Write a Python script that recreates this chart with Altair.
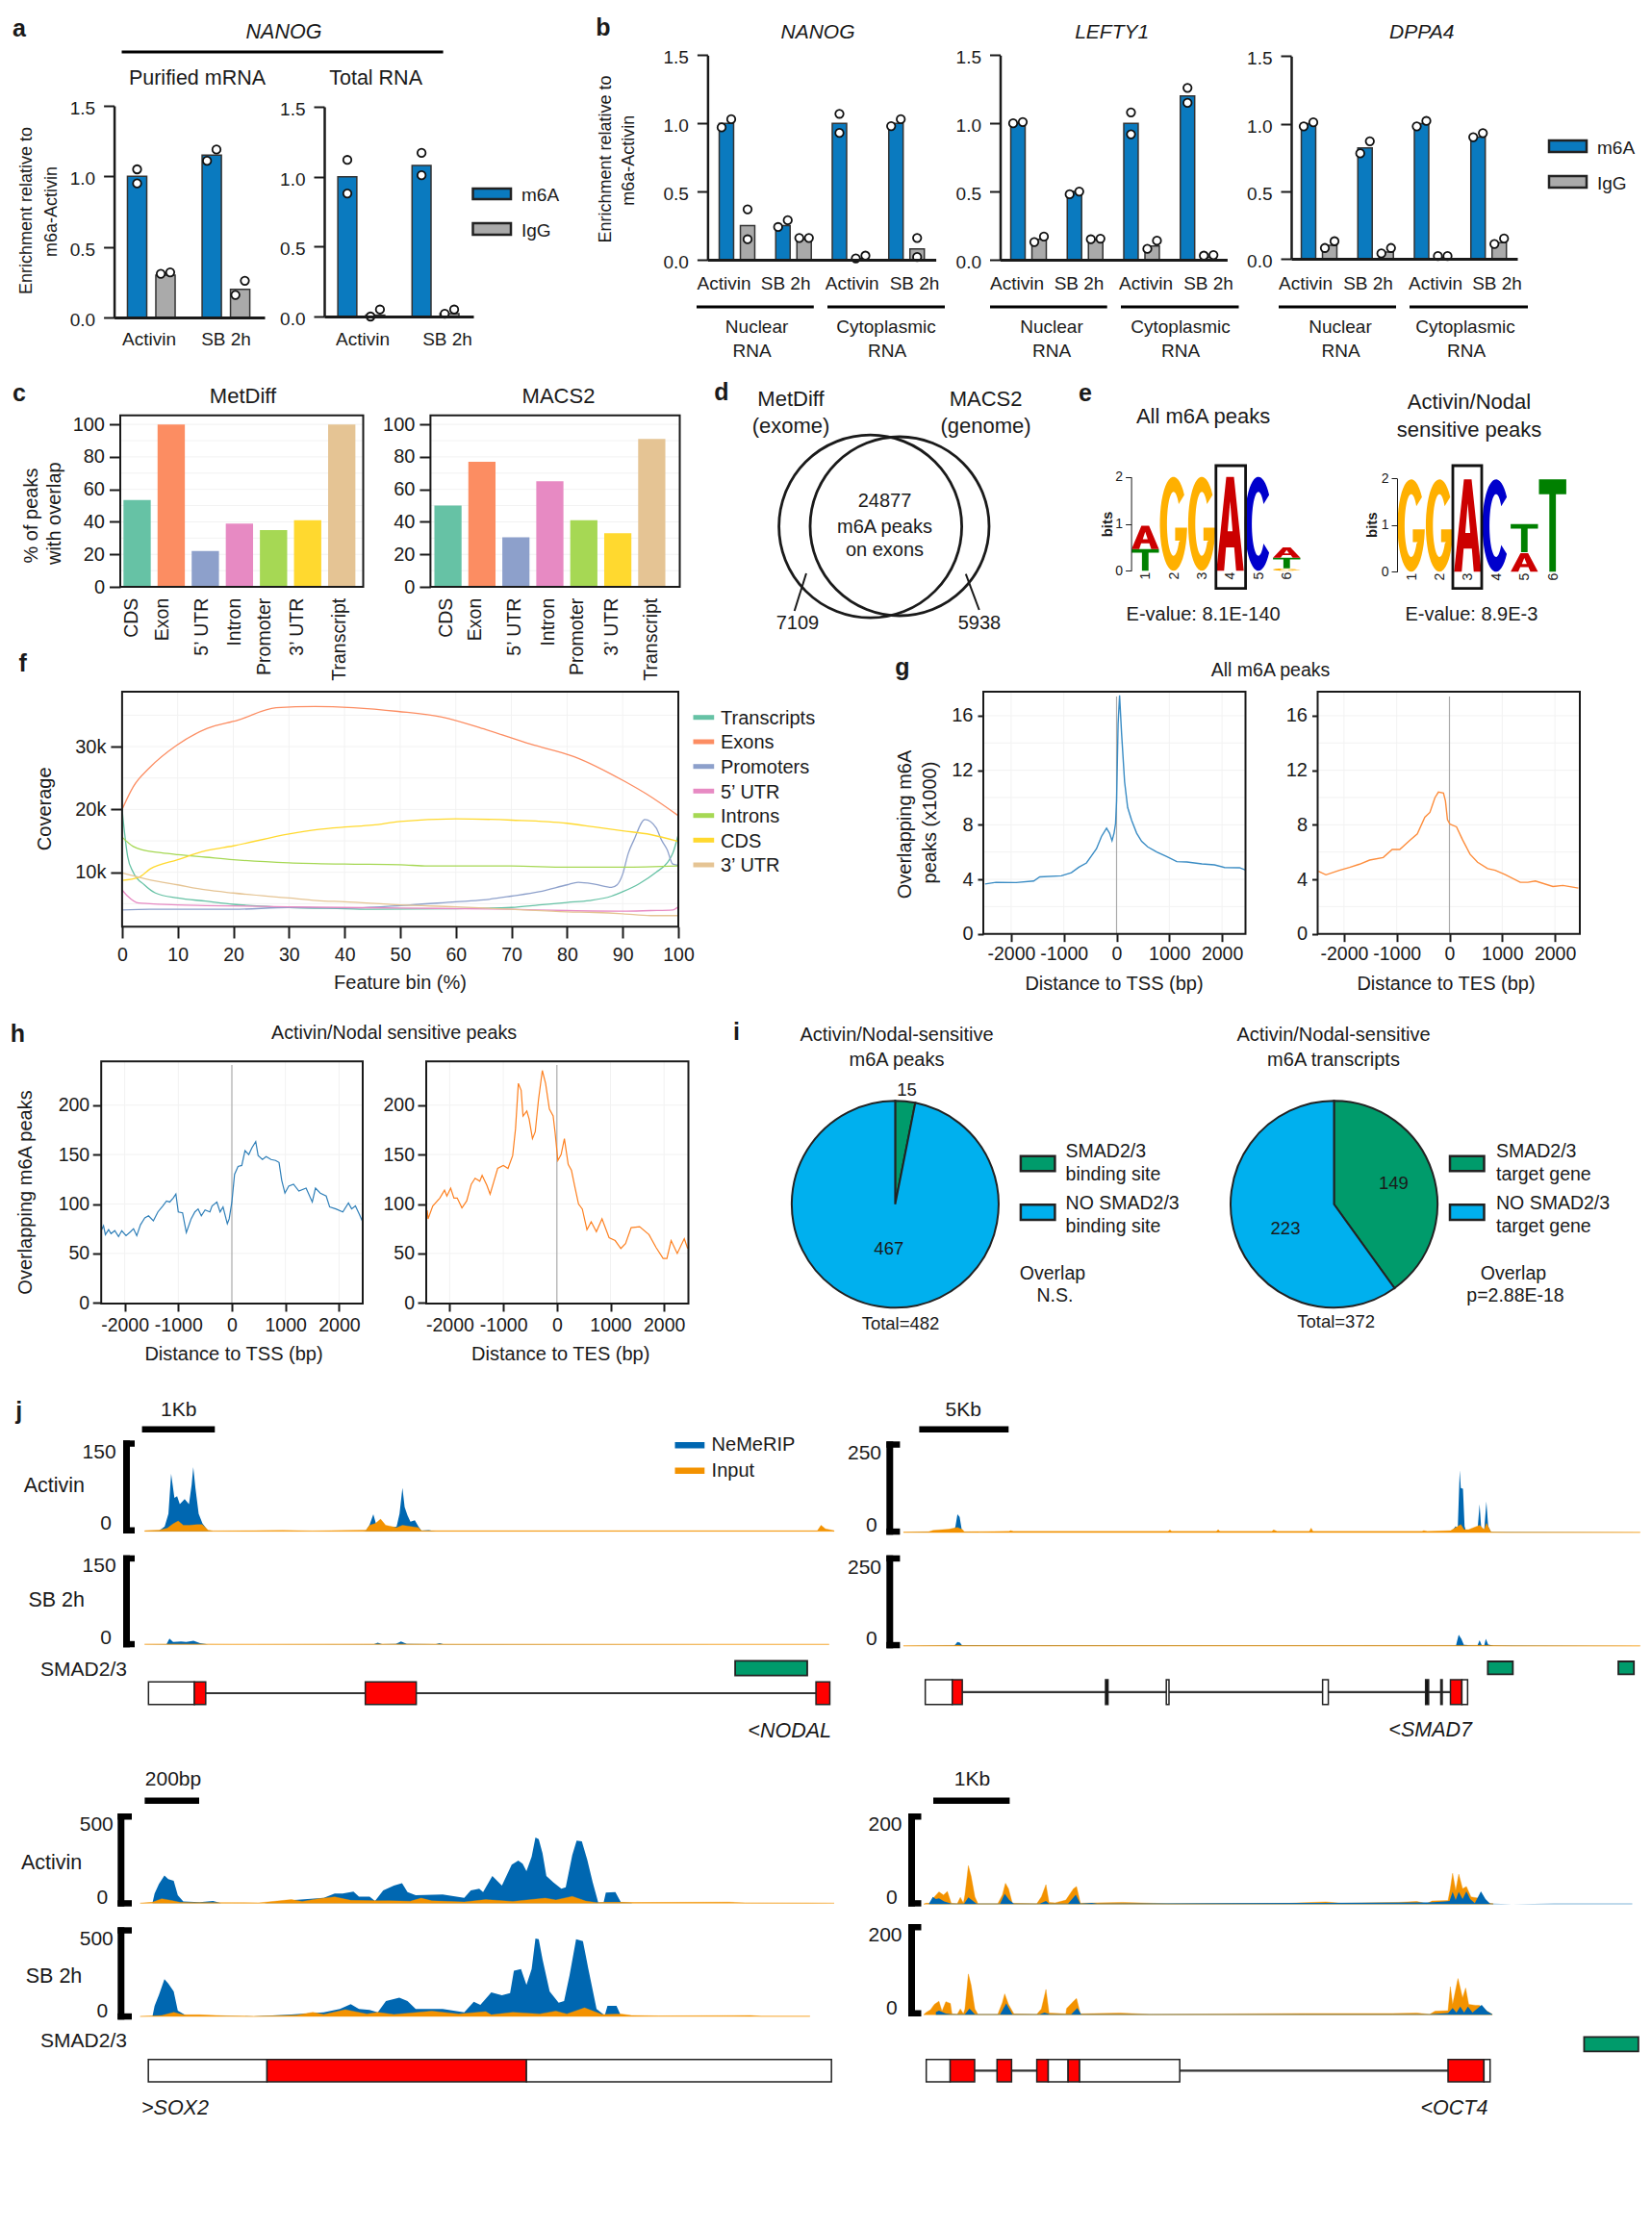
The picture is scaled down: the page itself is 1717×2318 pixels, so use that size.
import math
import altair as alt
import pandas as pd

FONT = "Liberation Sans"
INK = "#1a1a1a"
W, H = 1701, 2302
BLUE_BAR, GREY_BAR = "#0a7abf", "#aaaaaa"
NEME, INPUT = "#0067b1", "#f39200"
GREEN, SKY = "#009b6b", "#00b0ee"
SET2 = ["#66c2a5", "#fc8d62", "#8da0cb", "#e78ac3", "#a6d854", "#ffd92f", "#e5c494"]

# ---------------- data ----------------
a1_vals = [1.0, 0.3, 1.15, 0.2]
a1_pts = [(1.05, 0.95), (0.31, 0.32), (1.11, 1.19), (0.16, 0.26)]
a1_stack = [True, False, False, False]
a2_vals = [1.0, 0.01, 1.08, 0.02]
a2_pts = [(1.12, 0.88), (0.0, 0.05), (1.17, 1.01), (0.02, 0.05)]
a2_stack = [True, False, True, False]

b1_vals = [1.0, 0.25, 0.25, 0.15, 1.0, 0.01, 1.0, 0.08]
b1_pts = [(0.97, 1.03), (0.15, 0.37), (0.24, 0.29), (0.16, 0.16), (0.93, 1.07), (0.01, 0.03), (0.98, 1.03), (0.02, 0.16)]
b1_stack = [False, True, False, False, True, False, False, True]
b2_vals = [1.0, 0.15, 0.5, 0.15, 1.0, 0.1, 1.2, 0.02]
b2_pts = [(1.0, 1.01), (0.13, 0.17), (0.48, 0.5), (0.15, 0.155), (0.92, 1.08), (0.08, 0.14), (1.15, 1.26), (0.03, 0.035)]
b2_stack = [False, False, False, False, True, False, True, False]
b3_vals = [1.0, 0.1, 0.82, 0.05, 1.0, 0.01, 0.9, 0.12]
b3_pts = [(0.98, 1.01), (0.08, 0.13), (0.78, 0.87), (0.04, 0.08), (0.98, 1.02), (0.02, 0.02), (0.9, 0.93), (0.11, 0.15)]
b3_stack = [False] * 8

c_labels = ["CDS", "Exon", "5\u2019 UTR", "Intron", "Promoter", "3\u2019 UTR", "Transcript"]
c1_vals = [53.5, 100, 22, 39, 35, 41, 100]
c2_vals = [50, 77, 30.5, 65, 41, 33, 91]

f_names = ["Transcripts", "Exons", "Promoters", "5\u2019 UTR", "Introns", "CDS", "3\u2019 UTR"]
f_x = {
    "Transcripts": [0, 1, 2, 4, 6, 10, 15, 20, 25, 30, 40, 45, 60, 70, 75, 80, 84, 88, 90, 93, 96, 98, 99, 100],
    "Exons": [0, 2, 4.9, 9.8, 15.3, 20.8, 27.7, 34.7, 41.6, 49.6, 57.5, 65.4, 73.4, 81.3, 90.3, 94.2, 100],
    "Promoters": [0, 5, 20, 30, 40, 50, 60, 65, 70, 75, 80, 82, 85, 88, 89, 90, 91, 92, 94, 96, 97, 98, 99, 100],
    "5\u2019 UTR": [0, 1, 3, 5, 10, 15, 30, 50, 70, 80, 90, 95, 99, 100],
    "Introns": [0, 2, 4, 7, 10, 15, 20, 30, 40, 50, 55, 60, 70, 80, 90, 100],
    "CDS": [0, 3, 5, 10, 15, 20, 30, 35, 40, 45, 50, 60, 70, 80, 85, 90, 95, 100],
    "3\u2019 UTR": [0, 5, 10, 15, 20, 30, 35, 40, 50, 60, 70, 80, 85, 90, 95, 100],
}
f_y = {
    "Transcripts": [20, 12.5, 10, 8, 6.7, 5.9, 5.4, 4.9, 4.6, 4.4, 4.2, 4.1, 4.2, 4.4, 4.8, 5.2, 5.5, 6.2, 6.9, 8.2, 10, 11.5, 13, 16],
    "Exons": [20, 23.6, 26.6, 30.2, 32.9, 34.2, 36.2, 36.4, 36.2, 35.6, 34.7, 32.7, 30.4, 28.4, 24.5, 22.5, 19],
    "Promoters": [4, 4.1, 4.1, 4.4, 4.3, 4.7, 5.3, 5.6, 6.2, 6.9, 8, 8.4, 8.1, 7.6, 8, 9.7, 13, 15.1, 18.4, 17.1, 15.1, 13.6, 11.3, 11.1],
    "5\u2019 UTR": [7.2, 6.2, 5.1, 5, 4.8, 4.7, 4.5, 4.3, 4.1, 3.9, 3.8, 3.9, 4, 4.5],
    "Introns": [15.6, 14.1, 13.5, 13.1, 12.8, 12.4, 12, 11.5, 11.3, 11.2, 11, 11, 11, 10.8, 10.8, 11],
    "CDS": [8.7, 9.2, 10.5, 12, 13.4, 14.2, 16.1, 16.8, 17.2, 17.5, 18.1, 18.5, 18.3, 17.8, 17.2, 16.6, 16, 14.9],
    "3\u2019 UTR": [9.9, 8.8, 8, 7.2, 6.7, 5.9, 5.5, 5.3, 4.8, 4.5, 4.1, 3.7, 3.6, 3.4, 3.1, 3.1],
}

g1_d = [-2495, -2286, -1905, -1571, -1457, -1048, -857, -714, -571, -476, -381, -286, -190, -133, -86, -48, -19, 0, 29, 57, 95, 152, 210, 286, 381, 476, 590, 762, 952, 1143, 1333, 1619, 1857, 2048, 2333, 2445]
g1_v = [3.66, 3.78, 3.76, 3.88, 4.18, 4.26, 4.49, 4.89, 5.2, 5.72, 6.24, 7.14, 7.75, 7.38, 6.83, 7.38, 8.09, 9.74, 15.4, 17.5, 14.7, 11.16, 9.27, 8.32, 7.38, 6.78, 6.38, 6, 5.67, 5.3, 5.27, 5.13, 5.06, 4.87, 4.85, 4.68]
g2_d = [-2486, -2343, -2086, -1895, -1705, -1514, -1257, -1086, -943, -752, -610, -467, -371, -276, -210, -114, -76, -38, 10, 133, 248, 390, 533, 724, 867, 1057, 1343, 1486, 1629, 1962, 2152, 2445]
g2_v = [4.59, 4.33, 4.66, 4.87, 5.11, 5.41, 5.6, 6.19, 6.19, 6.86, 7.33, 8.56, 8.91, 9.98, 10.4, 10.33, 9.74, 8.37, 8.04, 7.85, 6.9, 5.84, 5.25, 4.78, 4.66, 4.35, 3.78, 3.78, 3.88, 3.47, 3.55, 3.36]

h1_d = [-2430, -2395, -2360, -2300, -2255, -2185, -2115, -2055, -1975, -1890, -1835, -1775, -1705, -1625, -1555, -1465, -1380, -1290, -1220, -1160, -1095, -1045, -1000, -920, -850, -760, -690, -630, -570, -500, -410, -370, -280, -220, -165, -85, -50, 0, 50, 115, 185, 245, 315, 375, 445, 490, 570, 640, 730, 815, 880, 930, 990, 1060, 1150, 1250, 1385, 1500, 1560, 1650, 1760, 1825, 1940, 2070, 2175, 2235, 2305, 2375, 2440]
h1_v = [74, 78, 69, 74, 70, 73, 67, 73, 68, 72, 75, 68, 79, 86, 88, 83, 92, 98, 103, 102, 106, 110, 92, 91, 71, 85, 92, 95, 88, 94, 92, 98, 102, 92, 97, 80, 85, 102, 130, 138, 139, 154, 150, 157, 163, 149, 145, 148, 145, 144, 142, 124, 111, 118, 120, 113, 116, 102, 116, 111, 108, 97, 95, 92, 101, 95, 98, 90, 82]
h2_d = [-2420, -2404, -2316, -2184, -2097, -2053, -1982, -1921, -1860, -1772, -1684, -1597, -1526, -1439, -1395, -1307, -1246, -1175, -1105, -1000, -912, -825, -772, -719, -667, -632, -561, -518, -456, -404, -342, -272, -211, -140, -70, -35, 18, 79, 140, 211, 272, 333, 404, 474, 561, 640, 737, 842, 974, 1088, 1193, 1281, 1386, 1544, 1719, 1851, 1982, 2053, 2132, 2246, 2377, 2440]
h2_v = [93.5, 85, 98, 106, 114, 108, 116, 106, 106, 96, 103, 120, 126, 123, 129, 119, 110, 123, 136, 139, 136, 149, 176, 222, 215, 189, 194, 186, 166, 173, 206, 235, 222, 196, 189, 173, 144, 150, 166, 140, 134, 118, 100, 95, 74, 82, 72, 85, 66, 63, 55, 60, 76, 77, 69, 56, 45, 45, 63, 50, 65, 55]

pie1_counts = [15, 467]
pie2_counts = [149, 223]

# genome tracks: position, height
nodal_a_bx = [0, 0.2, 0.274, 0.326, 0.363, 0.408, 0.445, 0.482, 0.549, 0.608, 0.645, 0.667, 0.697, 0.741, 0.793, 0.867, 0.94, 3.0, 3.04, 3.09, 3.14, 3.18, 3.24, 3.35, 3.46, 3.5, 3.54, 3.57, 3.61, 3.65, 3.71, 3.76, 3.8, 3.9, 4.0, 9.47]
nodal_a_by = [0, 1, 8, 29, 95, 55, 58, 45, 53, 45, 77, 106, 71, 29, 13, 1, 0, 0, 1, 11, 28, 11, 8, 5, 8, 29, 72, 40, 26, 16, 18, 8, 1, 2, 0, 0]
nodal_a_ox = [0, 0.2, 0.31, 0.385, 0.46, 0.53, 0.61, 0.72, 0.79, 0.87, 0.94, 1.5, 1.9, 2.3, 3.04, 3.09, 3.17, 3.24, 3.31, 3.39, 3.46, 3.54, 3.65, 3.76, 3.8, 4.2, 5.0, 6.5, 8.0, 9.24, 9.29, 9.35, 9.47]
nodal_a_oy = [1, 2, 5, 12, 17, 10, 10, 11, 11, 2, 0.7, 1, 1.6, 0.7, 2, 10, 13, 20, 10, 8, 6, 10, 8, 6, 1, 1, 1, 1, 1, 1, 10, 4, 1]
nodal_s_bx = [0, 0.3, 0.34, 0.39, 0.5, 0.57, 0.67, 0.76, 0.87, 3.15, 3.2, 3.26, 3.45, 3.52, 3.6, 4.0, 4.05, 4.1, 9.47]
nodal_s_by = [0, 0.5, 9.5, 4, 5, 4, 6, 2, 0, 0.5, 3, 0.5, 1, 5, 1, 0.5, 2, 0.5, 0]
nodal_s_ox = [0, 0.85, 1.2, 3.0, 3.7, 4.5, 9.4]
nodal_s_oy = [0.6, 0.6, 0.3, 0.6, 0.6, 0.3, 0.3]

smad7_a_bx = [0, 2.82, 2.91, 3.02, 3.14, 3.26, 3.34, 30.6, 30.74, 30.88, 31.0, 31.11, 31.17, 31.29, 31.38, 31.46, 32.1, 32.22, 32.31, 32.48, 32.6, 32.7, 32.86, 41.2]
smad7_a_by = [0, 3.5, 17, 50, 43, 8, 1, 0, 8, 17, 12, 171, 122, 120, 17, 4, 3, 78, 12, 8, 85, 17, 1, 0]
smad7_a_ox = [0, 1.4, 1.66, 2.53, 3.02, 3.31, 3.4, 5.9, 6.0, 6.15, 14.8, 14.9, 15.0, 17.5, 17.6, 17.7, 20.6, 20.7, 20.9, 22.7, 22.8, 22.9, 29.0, 29.1, 29.3, 30.6, 31.17, 31.35, 31.6, 32.22, 32.48, 32.6, 32.86, 33.8, 41.2]
smad7_a_oy = [1, 2, 6, 9, 14, 8, 2, 3, 5, 3, 3, 7, 3, 3, 8, 3, 3, 7, 3, 3, 12, 3, 3, 5, 3, 5, 22, 8, 8, 20, 8, 25, 1, 0.5, 0.5]
smad7_s_bx = [0, 2.85, 3.02, 3.16, 3.28, 30.9, 31.05, 31.2, 31.34, 32.1, 32.22, 32.34, 32.48, 32.57, 32.7, 33.0, 41.2]
smad7_s_by = [0, 1, 11, 9, 2, 1, 31, 20, 3, 1, 16, 2, 2, 20, 4, 1, 0]
smad7_s_ox = [0, 2.8, 3.02, 3.3, 31.0, 31.4, 32.2, 32.8, 34, 41.2]
smad7_s_oy = [0.8, 1.5, 2.5, 1, 1.5, 1.5, 2, 1.5, 0.6, 0.5]

sox2_a_bx = [65, 73, 89, 109, 123, 143, 158, 178, 238, 287, 317, 475, 574, 693, 733, 762, 802, 822, 861, 881, 911, 950, 980, 1000, 1030, 1129, 1208, 1232, 1263, 1277, 1311, 1346, 1382, 1406, 1422, 1436, 1455, 1469, 1481, 1495, 1509, 1535, 1564, 1580, 1604, 1620, 1639, 1659, 1679, 1699, 1719, 1727, 1762, 1782, 1822]
sox2_a_by = [0, 54, 107, 155, 134, 125, 45, 9, 5, 12, 0, 0, 16, 30, 54, 54, 64, 36, 36, 12, 71, 98, 111, 62, 45, 48, 30, 71, 80, 62, 152, 98, 214, 237, 220, 179, 259, 366, 357, 277, 152, 116, 80, 89, 268, 348, 345, 241, 116, 4, 4, 59, 62, 5, 1]
sox2_a_ox = [20, 65, 99, 139, 168, 218, 297, 455, 574, 614, 673, 733, 792, 891, 931, 1010, 1050, 1089, 1208, 1287, 1386, 1505, 1544, 1604, 1653, 1693, 1723, 1782, 1831, 2178, 2237, 2475, 2564]
sox2_a_oy = [0, 5, 25, 14, 4, 3, 3, 2, 20, 10, 25, 35, 16, 13, 14, 11, 28, 13, 7, 20, 10, 28, 18, 38, 12, 3, 5, 5, 4, 6, 2, 1, 0]
sox2_s_bx = [65, 73, 89, 109, 123, 143, 158, 188, 436, 574, 693, 752, 792, 822, 861, 891, 921, 970, 1000, 1030, 1129, 1208, 1243, 1267, 1307, 1346, 1376, 1390, 1416, 1436, 1455, 1469, 1481, 1495, 1521, 1554, 1574, 1594, 1618, 1643, 1663, 1693, 1723, 1733, 1766, 1782, 1822]
sox2_s_by = [0, 59, 121, 207, 184, 139, 32, 5, 0, 11, 23, 41, 68, 41, 36, 23, 86, 104, 86, 41, 41, 23, 82, 64, 134, 118, 130, 255, 264, 175, 264, 434, 430, 318, 139, 77, 86, 229, 430, 420, 264, 41, 5, 59, 59, 5, 0]
sox2_s_ox = [20, 99, 143, 178, 238, 337, 436, 594, 653, 693, 772, 851, 891, 950, 1089, 1188, 1287, 1307, 1386, 1485, 1544, 1584, 1649, 1713, 1782, 1822, 1921, 2257, 2297, 2475]
sox2_s_oy = [0, 5, 23, 9, 9, 3, 0, 7, 23, 11, 38, 14, 23, 11, 30, 14, 27, 9, 23, 14, 30, 14, 48, 11, 14, 5, 3, 5, 1, 1]

oct4_a_ox = [0, 0.03, 0.09, 0.14, 0.2, 0.26, 0.31, 0.36, 0.44, 0.48, 0.52, 0.54, 0.585, 0.62, 0.67, 0.71, 0.97, 1.03, 1.07, 1.11, 1.16, 1.48, 1.54, 1.6, 1.64, 1.72, 1.86, 1.96, 2.0, 2.05, 2.27, 2.6, 3.2, 4.78, 5.26, 5.46, 6.21, 6.45, 6.58, 6.65, 6.86, 6.89, 6.92, 6.96, 7.0, 7.05, 7.1, 7.16, 7.27, 7.4, 7.45]
oct4_a_oy = [0, 2, 2, 16, 27, 20, 28, 2, 1, 15, 2, 20, 85, 62, 16, 1, 1, 20, 46, 34, 2, 1, 16, 43, 4, 3, 9, 34, 39, 2, 3, 4, 1, 2, 5, 2, 4, 6, 1, 7, 8, 34, 68, 30, 66, 34, 39, 16, 13, 2, 1]
oct4_a_bx = [0.07, 0.12, 0.16, 0.2, 0.27, 0.36, 0.53, 0.585, 0.63, 0.69, 1.0, 1.06, 1.12, 1.18, 1.52, 1.6, 1.64, 1.89, 1.99, 2.05, 2.2, 2.27, 5.02, 5.16, 6.62, 6.82, 6.88, 6.92, 6.96, 7.0, 7.05, 7.1, 7.15, 7.21, 7.29, 7.35, 7.41, 7.7, 8.25, 8.73, 9.27]
oct4_a_by = [1, 16, 11, 13, 6, 1, 1, 15, 9, 1, 1, 23, 9, 1, 1, 7, 1, 1, 21, 1, 3, 1, 3, 3, 4, 6, 7, 27, 9, 27, 11, 28, 11, 2, 28, 11, 1, 0, 1, 1, 1]
oct4_s_ox = [0, 0.03, 0.09, 0.14, 0.2, 0.24, 0.29, 0.35, 0.37, 0.44, 0.48, 0.52, 0.54, 0.585, 0.62, 0.67, 0.71, 0.97, 1.03, 1.06, 1.11, 1.18, 1.48, 1.54, 1.6, 1.64, 1.86, 1.87, 1.96, 2.0, 2.05, 2.57, 2.95, 4.99, 6.14, 6.45, 6.62, 6.69, 6.86, 6.89, 6.92, 6.99, 7.05, 7.09, 7.13, 7.22, 7.27, 7.37, 7.44]
oct4_s_oy = [0, 5, 11, 23, 30, 8, 29, 25, 2, 1, 13, 2, 13, 90, 66, 13, 1, 1, 27, 46, 23, 2, 1, 13, 56, 4, 2, 14, 30, 36, 2, 4, 1, 3, 3, 4, 1, 8, 9, 62, 23, 80, 37, 59, 23, 21, 21, 8, 1]
oct4_s_bx = [0.16, 0.2, 0.29, 0.36, 0.54, 0.6, 0.67, 1.0, 1.08, 1.16, 1.52, 1.58, 1.65, 1.93, 2.01, 2.06, 6.62, 6.86, 6.92, 6.97, 7.02, 7.07, 7.12, 7.18, 7.3, 7.37, 7.44]
oct4_s_by = [6, 9, 3, 1, 1, 14, 1, 1, 25, 1, 1, 5, 1, 1, 15, 1, 1, 4, 15, 5, 18, 5, 18, 5, 22, 8, 1]

nodal_exons = [(0.052, 0.682, "u"), (0.682, 0.838, "c"), (3.03, 3.73, "c"), (9.22, 9.41, "c")]
smad7_exons = [(1.22, 2.73, "u"), (2.73, 3.29, "c"), (11.3, 11.44, "k"), (14.7, 14.85, "u"), (23.44, 23.76, "u"), (29.2, 29.37, "k"), (30.05, 30.13, "k"), (30.59, 31.23, "c"), (31.23, 31.55, "u")]
sox2_exons = [(50, 485, "u"), (485, 1436, "c"), (1436, 2554, "u")]
oct4_exons = [(0.034, 0.347, "u"), (0.347, 0.667, "c"), (0.96, 1.15, "c"), (1.48, 1.63, "c"), (1.63, 1.89, "u"), (1.89, 2.04, "c"), (2.04, 3.35, "u"), (6.86, 7.33, "c"), (7.33, 7.41, "u")]

# sequence logos: (position, letter, base bits, height bits)
logo1 = [(0, "T", 0, 0.46), (0, "A", 0.46, 0.5), (1, "G", 0, 2), (2, "G", 0, 2), (3, "A", 0, 2), (4, "C", 0, 2),
         (5, "G", 0, 0.05), (5, "T", 0.05, 0.23), (5, "A", 0.28, 0.22)]
logo2 = [(0, "G", 0, 1.98), (1, "G", 0, 1.98), (2, "A", 0, 1.98), (3, "C", 0, 1.98), (4, "A", 0, 0.4), (4, "T", 0.42, 0.6), (5, "T", 0, 1.98)]

# ---------------- helpers ----------------
L = []
ONE = alt.Data(values=[{"k": 1}])
EXON_FILL = {"c": "#ff0000", "u": "#ffffff", "k": "#111111"}


def sx(dom, a, b):
    return alt.Scale(domain=list(dom), range=[a - 8, b - 8], nice=False, zero=False)


def XQ(f, dom, r, axis=None):
    return alt.X(f, type="quantitative", scale=sx(dom, r[0], r[1]), axis=axis, title=None)


def YQ(f, dom, r, axis=None):
    return alt.Y(f, type="quantitative", scale=sx(dom, r[0], r[1]), axis=axis, title=None)


def T(s, X, Y, size=20, align="center", angle=0, italic=False, bold=False, color=INK):
    kw = dict(font=FONT, fontSize=size, align=align, baseline="middle", color=color)
    if angle:
        kw["angle"] = angle
        X += size * 0.06
    else:
        Y += size * 0.06
    if italic:
        kw["fontStyle"] = "italic"
    if bold:
        kw["fontWeight"] = "bold"
    L.append(alt.Chart(alt.Data(values=[{"label": s}])).mark_text(**kw).encode(
        x=alt.value(X - 8), y=alt.value(Y - 8), text=alt.Text("label:N")))


def R(x0, x1, y0, y1, fill=INK, stroke=None, sw=1.5):
    kw = dict(fill=fill, opacity=1)
    if stroke:
        kw.update(stroke=stroke, strokeWidth=sw)
    L.append(alt.Chart(ONE).mark_rect(**kw).encode(
        x=alt.value(x0 - 8), x2=alt.value(x1 - 8), y=alt.value(y0 - 8), y2=alt.value(y1 - 8)))


def LN(x0, y0, x1, y1, w=2):
    L.append(alt.Chart(ONE).mark_rule(color=INK, strokeWidth=w).encode(
        x=alt.value(x0 - 8), x2=alt.value(x1 - 8), y=alt.value(y0 - 8), y2=alt.value(y1 - 8)))


def yax(X, vals, size=19, tick=11, pad=8, domain=True, dw=2.5, expr=None, tw=2, lo=0):
    d = dict(orient="left", offset=-(X - 8), values=vals, title=None, grid=False, labelFont=FONT,
             labelFontSize=size, labelColor=INK, labelPadding=pad, tickSize=tick, tickColor=INK,
             tickWidth=tw, domain=domain, domainColor=INK, domainWidth=dw, labelOverlap=False,
             labelFlush=False, labelOffset=lo, zindex=2)
    if expr:
        d["labelExpr"] = expr
    return alt.Axis(**d)


def xax(Y, vals=None, size=19, tick=8, pad=5, labels=True, dw=2, expr=None, domain=True):
    d = dict(orient="bottom", offset=-(H - (Y - 8)), title=None, grid=False, labelFont=FONT,
             labelFontSize=size, labelColor=INK, labelPadding=pad, tickSize=tick, tickColor=INK,
             tickWidth=2, domain=domain, domainColor=INK, domainWidth=dw, labelOverlap=False,
             labelFlush=False, labels=labels, ticks=tick > 0, zindex=2)
    if vals is not None:
        d["values"] = vals
    if expr:
        d["labelExpr"] = expr
    return alt.Axis(**d)


def axes(xd, xr, yd, yr, xa=None, ya=None):
    df = pd.DataFrame({"x": [xd[0]], "y": [yd[0]]})
    L.append(alt.Chart(df).mark_point(opacity=0).encode(x=XQ("x", xd, xr, xa), y=YQ("y", yd, yr, ya)))


def frame(xd, xr, yd, yr, sw=2):
    df = pd.DataFrame({"a": [xd[0]], "b": [xd[1]], "c": [yd[0]], "d": [yd[1]]})
    L.append(alt.Chart(df).mark_rect(fillOpacity=0, stroke=INK, strokeWidth=sw, opacity=1).encode(
        x=XQ("a", xd, xr), x2=alt.X2("b"), y=YQ("c", yd, yr), y2=alt.Y2("d")))


def grid(xd, xr, yd, yr, xs=(), ys=()):
    for v in xs:
        df = pd.DataFrame({"x": [v]})
        L.append(alt.Chart(df).mark_rule(color="#f2f2f2", strokeWidth=1).encode(
            x=XQ("x", xd, xr), y=alt.value(yr[1] - 8), y2=alt.value(yr[0] - 8)))
    for v in ys:
        df = pd.DataFrame({"y": [v]})
        L.append(alt.Chart(df).mark_rule(color="#f2f2f2", strokeWidth=1).encode(
            y=YQ("y", yd, yr), x=alt.value(xr[0] - 8), x2=alt.value(xr[1] - 8)))


def grouped(vals, pts, stack, ax0, ax1, c0, u, ybot, ytop, gap, jit):
    pos = [(i // 2) * gap + i % 2 for i in range(len(vals))]
    xd = [(ax0 - c0) / u, (ax1 - c0) / u]
    xr, yd, yr = (ax0, ax1), [0, 1.5], (ybot, ytop)
    df = pd.DataFrame({"a": [p - 0.34 for p in pos], "b": [p + 0.34 for p in pos], "v": vals, "z": [0] * len(vals),
                       "c": [BLUE_BAR if i % 2 == 0 else GREY_BAR for i in range(len(vals))]})
    L.append(alt.Chart(df).mark_rect(stroke="#333333", strokeWidth=1.5, opacity=1).encode(
        x=XQ("a", xd, xr), x2=alt.X2("b"), y=YQ("v", yd, yr), y2=alt.Y2("z"),
        color=alt.Color("c:N", scale=None)))
    axes(xd, xr, yd, yr, xa=xax(ybot, labels=False, tick=0, dw=3),
         ya=yax(ax0, [0, 0.5, 1.0, 1.5], expr="format(datum.value,'.1f')", pad=9, lo=2.5))
    rows = []
    for p, pair, st in zip(pos, pts, stack):
        d = 0 if st else jit / u
        rows += [{"x": p - d, "y": pair[0]}, {"x": p + d, "y": pair[1]}]
    L.append(alt.Chart(pd.DataFrame(rows)).mark_circle(color="white", stroke="#111111", strokeWidth=1.8,
                                                       size=72, opacity=1).encode(
        x=XQ("x", xd, xr), y=YQ("y", yd, yr)))


def legend_ab(x0, x1, x2, y1a, y1b, y2a, y2b, t1, t2):
    R(x0, x1, y1a, y1b, BLUE_BAR, "#222222", 2.5)
    R(x0, x1, y2a, y2b, GREY_BAR, "#222222", 2.5)
    T("m6A", x2, t1, 19, "left")
    T("IgG", x2, t2, 19, "left")


def curve(xs, ys, color, xd, xr, yd, yr, w=1.3, interp="linear"):
    df = pd.DataFrame({"x": xs, "y": ys})
    L.append(alt.Chart(df).mark_line(color=color, strokeWidth=w, interpolate=interp, opacity=1).encode(
        x=XQ("x", xd, xr), y=YQ("y", yd, yr)))


def area(xs, ys, color, xd, xr, yd, yr, line=False):
    df = pd.DataFrame({"x": xs, "y": ys, "z": [0] * len(xs)})
    kw = dict(color=color, opacity=1)
    if line:
        kw.update(stroke=color, strokeWidth=0.7, strokeOpacity=0.55)
    L.append(alt.Chart(df).mark_area(**kw).encode(x=XQ("x", xd, xr), y=YQ("y", yd, yr), y2=alt.Y2("z")))


def bracket(x0, x1, y0, y1, wide=7, cap=6.5):
    R(x0, x0 + wide, y0, y1, "#000000")
    R(x0, x1, y0, y0 + cap, "#000000")
    R(x0, x1, y1 - cap, y1, "#000000")


def gene(exons, xd, xr, ya, yb, lo, hi):
    df = pd.DataFrame({"a": [lo], "b": [hi]})
    mid = (ya + yb) / 2
    L.append(alt.Chart(df).mark_rule(color="#333333", strokeWidth=2.2).encode(
        x=XQ("a", xd, xr), x2=alt.X2("b"), y=alt.value(mid - 8)))
    d = pd.DataFrame({"a": [e[0] for e in exons], "b": [e[1] for e in exons],
                      "c": [EXON_FILL[e[2]] for e in exons]})
    L.append(alt.Chart(d).mark_rect(stroke="#222222", strokeWidth=1.5, opacity=1).encode(
        x=XQ("a", xd, xr), x2=alt.X2("b"), y=alt.value(ya - 8), y2=alt.value(yb - 8),
        color=alt.Color("c:N", scale=None)))


def sites(starts, ends, xd, xr, ya, yb):
    d = pd.DataFrame({"a": starts, "b": ends})
    L.append(alt.Chart(d).mark_rect(fill=GREEN, stroke="#222222", strokeWidth=1.8, opacity=1).encode(
        x=XQ("a", xd, xr), x2=alt.X2("b"), y=alt.value(ya - 8), y2=alt.value(yb - 8)))


def ring(a0, a1, rx, ry, n=40):
    return [(0.5 + rx * math.cos(math.radians(a0 + (a1 - a0) * i / n)),
             0.5 + ry * math.sin(math.radians(a0 + (a1 - a0) * i / n))) for i in range(n + 1)]


LETTERS = {
    "A": ([[(0, 0), (0.36, 1), (0.64, 1), (1, 0), (0.72, 0), (0.65, 0.25), (0.35, 0.25), (0.28, 0)],
           [(0.41, 0.42), (0.59, 0.42), (0.5, 0.74)]], "#cc0000"),
    "T": ([[(0, 1), (1, 1), (1, 0.84), (0.62, 0.84), (0.62, 0), (0.38, 0), (0.38, 0.84), (0, 0.84)]], "#008000"),
    "C": ([ring(38, 322, 0.5, 0.5) + ring(322, 38, 0.24, 0.34)], "#0000cc"),
    "G": ([ring(38, 360, 0.5, 0.5) + [(1, 0.46), (0.56, 0.46), (0.56, 0.32), (0.74, 0.32)] +
           ring(325, 38, 0.24, 0.34)], "#ffb000"),
}


def letter_path(ch, w, h):
    out = []
    for poly in LETTERS[ch][0]:
        out.append("M" + " L".join(f"{(u - 0.5) * w:.2f} {-v * h:.2f}" for u, v in poly) + " Z")
    return " ".join(out)


def logo(rows, x0, ybot, ytop, lab_right_pad, digit_y):
    cw = 29.4
    xd, xr = [0, 6], (x0, x0 + 6 * cw)
    yd, yr = [0, 2], (ybot, ytop)
    per_bit = (ybot - ytop) / 2
    for p, ch, base, ht in rows:
        df = pd.DataFrame({"x": [p + 0.5], "y": [base]})
        L.append(alt.Chart(df).mark_point(shape=letter_path(ch, cw - 1, ht * per_bit), size=4, filled=True,
                                          color=LETTERS[ch][1], opacity=1, strokeOpacity=0).encode(
            x=XQ("x", xd, xr), y=YQ("y", yd, yr)))
    axes(xd, xr, yd, yr, ya=yax(x0, [0, 1, 2], size=14, tick=6, pad=lab_right_pad, dw=1, tw=1, expr="datum.value+''"))
    for i in range(6):
        T(str(i + 1), x0 + (i + 0.5) * cw, digit_y, 14, angle=270)


def pie(counts, cx, cy, r):
    tot = sum(counts)
    df = pd.DataFrame({"v": [c / tot for c in counts], "o": [0, 1], "c": [GREEN, SKY]})
    L.append(alt.Chart(df).mark_arc(radius=r, stroke="#222222", strokeWidth=2, opacity=1).encode(
        theta=alt.Theta("v:Q", stack=True, scale=alt.Scale(domain=[0, 1])),
        order=alt.Order("o:Q"),
        color=alt.Color("c:N", scale=None),
        x=alt.value(cx - 8), y=alt.value(cy - 8)))


# ---------------- panel a ----------------
T("a", 20, 28, 25, bold=True)
T("NANOG", 295, 33, 21.5, italic=True)
R(126.5, 460.6, 52.5, 55.5, "#000000")
T("Purified mRNA", 205, 81, 21.5)
T("Total RNA", 390.6, 81, 21.5)
T("Enrichment relative to", 27, 219, 18, angle=270)
T("m6a-Activin", 52.6, 220, 18, angle=270)
grouped(a1_vals, a1_pts, a1_stack, 118.6, 275, 142.5, 29.5, 330, 110, 2.63, 4.9)
grouped(a2_vals, a2_pts, a2_stack, 337, 492, 361, 29, 329, 111, 2.66, 4.9)
for s, x in [("Activin", 155), ("SB 2h", 235), ("Activin", 377), ("SB 2h", 465)]:
    T(s, x, 352, 19)
legend_ab(491.5, 531, 542, 196, 207, 232, 244, 202, 239)

# ---------------- panel b ----------------
T("b", 627, 27, 25, bold=True)
for s, x in [("NANOG", 850), ("LEFTY1", 1155.7), ("DPPA4", 1477.7)]:
    T(s, x, 33, 21, italic=True)
T("Enrichment relative to", 628.5, 165.5, 18, angle=270)
T("m6a-Activin", 653.4, 166.7, 18, angle=270)
grouped(b1_vals, b1_pts, b1_stack, 735.4, 972.6, 755, 22, 270, 57.3, 2.67, 5)
grouped(b2_vals, b2_pts, b2_stack, 1039.5, 1275.4, 1058, 22, 270, 57.3, 2.67, 5)
grouped(b3_vals, b3_pts, b3_stack, 1342, 1577, 1360, 22, 269, 58.3, 2.67, 5)
for xs in [(752.5, 816.6, 885.7, 950.5), (1057, 1121.5, 1191, 1256), (1357, 1422, 1492, 1556)]:
    for s, x in zip(["Activin", "SB 2h", "Activin", "SB 2h"], xs):
        T(s, x, 294, 19)
for a, b, c, d, n, r, cy, cr in [(724, 845.8, 860, 982, 786.6, 781.6, 921, 922),
                                 (1029, 1150.7, 1165, 1287.5, 1093, 1093, 1227, 1227),
                                 (1329, 1451, 1465, 1588, 1393, 1393.6, 1523, 1524)]:
    R(a, b, 317.5, 320.5, "#000000")
    R(c, d, 317.5, 320.5, "#000000")
    T("Nuclear", n, 339, 19)
    T("RNA", r, 364, 19)
    T("Cytoplasmic", cy, 339, 19)
    T("RNA", cr, 364, 19)
legend_ab(1610, 1649, 1660, 146, 158, 183, 195, 153, 190)

# ---------------- panel c ----------------
T("c", 20, 407, 25, bold=True)
T("MetDiff", 252.5, 410.7, 22)
T("MACS2", 580.5, 410.7, 22)
T("% of peaks", 31.6, 536, 20, angle=270)
T("with overlap", 55.7, 533.7, 20, angle=270)
for vals, x0, x1, c0, du, xlab in [
    (c1_vals, 125, 377.5, 142.5, 35.45, [136, 167.5, 208.6, 243, 274, 307.7, 351.6]),
    (c2_vals, 447.4, 706.5, 465.6, 35.3, [462.5, 493, 534, 568.7, 599, 634.7, 676]),
]:
    yd, yr, xr = [0, 105.6], (610, 431.7), (x0, x1)
    xd = [(x0 - c0) / du, (x1 - c0) / du]
    grid(xd, xr, yd, yr, ys=[10, 20, 30, 40, 50, 60, 70, 80, 90, 100])
    df = pd.DataFrame({"a": [i - 0.4 for i in range(7)], "b": [i + 0.4 for i in range(7)], "v": vals,
                       "z": [0] * 7, "c": SET2})
    L.append(alt.Chart(df).mark_rect(opacity=1).encode(
        x=XQ("a", xd, xr), x2=alt.X2("b"), y=YQ("v", yd, yr), y2=alt.Y2("z"),
        color=alt.Color("c:N", scale=None)))
    frame(xd, xr, yd, yr)
    axes(xd, xr, yd, yr, ya=yax(x0, [0, 20, 40, 60, 80, 100], size=20, tick=11.5, pad=5, domain=False))
    for s, x in zip(c_labels, xlab):
        T(s, x, 621.7, 19.5, align="right", angle=270)

# ---------------- panel d ----------------
T("d", 750, 406.7, 25, bold=True)
T("MetDiff", 822, 414, 22)
T("(exome)", 822, 442, 22)
T("MACS2", 1024.6, 414, 22)
T("(genome)", 1024.6, 442, 22)
for cx, cy, r in [(904.6, 547.2, 95), (935, 547, 93)]:
    L.append(alt.Chart(ONE).mark_point(shape="circle", size=(2 * r) ** 2, filled=False, stroke=INK,
                                       strokeWidth=2.8, opacity=1).encode(x=alt.value(cx - 8), y=alt.value(cy - 8)))
T("24877", 919.5, 520, 20)
T("m6A peaks", 919.5, 546.7, 20)
T("on exons", 919.5, 571, 20)
LN(838, 596, 825.7, 635)
LN(1003.8, 596.7, 1017.7, 634)
T("7109", 829, 646.7, 20)
T("5938", 1018, 646.7, 20)

# ---------------- panel e ----------------
T("e", 1128, 407, 25, bold=True)
T("All m6A peaks", 1250.6, 431.7, 22)
T("Activin/Nodal", 1527, 416.7, 22)
T("sensitive peaks", 1527, 445.7, 22)
logo(logo1, 1175.6, 593.3, 495.7, 3, 598.5)
logo(logo2, 1452, 594.3, 497.3, 3, 599.5)
T("bits", 1150, 545, 15, angle=270, bold=True)
T("bits", 1425.5, 545.7, 15, angle=270, bold=True)
for a, b in [(1263.8, 1294.6), (1510, 1540)]:
    L.append(alt.Chart(ONE).mark_rect(fillOpacity=0, stroke="#111111", strokeWidth=2.8, opacity=1).encode(
        x=alt.value(a - 8), x2=alt.value(b - 8), y=alt.value(484 - 8), y2=alt.value(611.7 - 8)))
T("E-value: 8.1E-140", 1250.6, 638, 20)
T("E-value: 8.9E-3", 1529.4, 638, 20)

# ---------------- panel f ----------------
T("f", 23.6, 688, 25, bold=True)
xd, xr = [0, 100], (126.9, 705)
yd, yr = [1.33, 38.74], (963.3, 719)
grid(xd, xr, yd, yr, xs=list(range(10, 100, 10)), ys=[5, 10, 15, 20, 25, 30, 35])
for n, c in zip(f_names, SET2):
    curve(f_x[n], f_y[n], c, xd, xr, yd, yr, w=1.3, interp="monotone")
frame(xd, xr, yd, yr)
axes(xd, xr, yd, yr,
     xa=xax(963.3, list(range(0, 101, 10)), size=19.5, tick=11.7, pad=8, domain=False),
     ya=yax(126.9, [10, 20, 30], size=20, tick=12, pad=5, domain=False, expr="datum.value+'k'"))
T("Feature bin (%)", 416, 1020.7, 20)
T("Coverage", 46, 840.8, 20, angle=270)
for i, (n, c) in enumerate(zip(f_names, SET2)):
    yy = [745.7, 771, 796.7, 822.3, 847.7, 873.3, 899][i]
    R(720.5, 742.2, yy - 2.5, yy + 2.5, c)
    T(n, 749, yy, 20, "left")

# ---------------- panel g ----------------
T("g", 938, 692.7, 25, bold=True)
T("All m6A peaks", 1320.5, 696, 19.5)
T("Overlapping m6A", 940, 857, 20, angle=270)
T("peaks (x1000)", 966, 855, 20, angle=270)
gy_d, gy_r = [0, 17.76], (970.7, 719)
for x0, x1, z, kk, xs, ys, col, ttl, tx in [
    (1022, 1294.5, 1160.5, 54.8, g1_d, g1_v, "#3a8cc4", "Distance to TSS (bp)", 1158),
    (1369.5, 1642, 1506.5, 54.8, g2_d, g2_v, "#fd8d3c", "Distance to TES (bp)", 1503),
]:
    xd, xr = [(x0 - z) / kk * 1000, (x1 - z) / kk * 1000], (x0, x1)
    grid(xd, xr, gy_d, gy_r, xs=[-2000, -1000, 1000, 2000], ys=[2, 4, 6, 8, 10, 12, 14, 16])
    df = pd.DataFrame({"x": [0]})
    L.append(alt.Chart(df).mark_rule(color="#aaaaaa", strokeWidth=1.2).encode(
        x=XQ("x", xd, xr), y=alt.value(724 - 8), y2=alt.value(970.7 - 8)))
    curve(xs, ys, col, xd, xr, gy_d, gy_r, w=1.4)
    frame(xd, xr, gy_d, gy_r)
    axes(xd, xr, gy_d, gy_r,
         xa=xax(970.7, [-2000, -1000, 0, 1000, 2000], size=19.5, tick=8, pad=4, domain=False, expr="datum.value+''"),
         ya=yax(x0, [0, 4, 8, 12, 16], size=20, tick=6, pad=5, domain=False))
    T(ttl, tx, 1021.7, 20)

# ---------------- panel h ----------------
T("h", 18.4, 1073, 25, bold=True)
T("Activin/Nodal sensitive peaks", 409.6, 1073.3, 19.7)
T("Overlapping m6A peaks", 25.7, 1239.5, 20, angle=270)
hy_d, hy_r = [-0.7, 244.2], (1355, 1103.3)
for x0, x1, z, kk, xs, ys, col, ttl, tx in [
    (105.2, 377, 241, 55.7, h1_d, h1_v, "#2f7fb8", "Distance to TSS (bp)", 243),
    (443, 715.5, 578.8, 55.7, h2_d, h2_v, "#fd8020", "Distance to TES (bp)", 582.7),
]:
    xd, xr = [(x0 - z) / kk * 1000, (x1 - z) / kk * 1000], (x0, x1)
    grid(xd, xr, hy_d, hy_r, xs=[-2000, -1000, 1000, 2000], ys=[50, 100, 150, 200])
    df = pd.DataFrame({"x": [0]})
    L.append(alt.Chart(df).mark_rule(color="#aaaaaa", strokeWidth=1.2).encode(
        x=XQ("x", xd, xr), y=alt.value(1107 - 8), y2=alt.value(1355 - 8)))
    curve(xs, ys, col, xd, xr, hy_d, hy_r, w=1.2)
    frame(xd, xr, hy_d, hy_r)
    axes(xd, xr, hy_d, hy_r,
         xa=xax(1355, [-2000, -1000, 0, 1000, 2000], size=19.5, tick=8, pad=5, domain=False, expr="datum.value+''"),
         ya=yax(x0, [0, 50, 100, 150, 200], size=19.5, tick=9, pad=3.5, domain=False))
    T(ttl, tx, 1406.7, 20)

# ---------------- panel i ----------------
T("i", 765.5, 1071.7, 25, bold=True)
T("Activin/Nodal-sensitive", 932, 1075, 20)
T("m6A peaks", 932, 1100.7, 20)
T("Activin/Nodal-sensitive", 1386, 1075, 20)
T("m6A transcripts", 1386, 1100.7, 20)
pie(pie1_counts, 930.4, 1251.8, 107.5)
pie(pie2_counts, 1386.5, 1251.8, 107.5)
T("15", 942.5, 1131.7, 18.5)
T("467", 923.8, 1296.7, 18.5)
T("Total=482", 936, 1375, 18.5)
T("149", 1448.4, 1229, 18.5)
T("223", 1336, 1276, 18.5)
T("Total=372", 1388.6, 1372.7, 18.5)
for a, b, tx, s1, s2 in [(1060.9, 1096.4, 1107.6, "binding site", "binding site"),
                         (1507, 1542.5, 1555, "target gene", "target gene")]:
    R(a, b, 1201.7, 1217.3, GREEN, "#222222", 2.5)
    R(a, b, 1252.3, 1268, SKY, "#222222", 2.5)
    T("SMAD2/3", tx, 1195.7, 19.5, "left")
    T(s1, tx, 1220, 19.5, "left")
    T("NO SMAD2/3", tx, 1250, 19.5, "left")
    T(s2, tx, 1274.3, 19.5, "left")
T("Overlap", 1094, 1322.7, 19.5)
T("N.S.", 1096.4, 1346, 19.5)
T("Overlap", 1573, 1322.7, 19.5)
T("p=2.88E-18", 1575, 1346, 19.5)

# ---------------- panel j ----------------
T("j", 19.6, 1465, 25, bold=True)
T("1Kb", 185.7, 1464.3, 21)
R(147.6, 223.3, 1482.5, 1489, "#000000")
T("5Kb", 1001.3, 1464.3, 21)
R(955.4, 1048.3, 1482.5, 1489, "#000000")
T("200bp", 180, 1848.3, 21)
R(150.4, 207, 1868.5, 1875, "#000000")
T("1Kb", 1010.5, 1848.3, 21)
R(970, 1049.4, 1868.5, 1875, "#000000")
R(701.5, 732.3, 1499, 1505.5, NEME)
R(701.5, 732.3, 1525.5, 1532, INPUT)
T("NeMeRIP", 739.6, 1501, 20, "left")
T("Input", 739.6, 1528, 20, "left")

# NODAL
xd, xr = [0, 9.47], (150.4, 867)
area(nodal_a_bx, nodal_a_by, NEME, xd, xr, [0, 150], (1591.7, 1497.3))
area(nodal_a_ox, nodal_a_oy, INPUT, xd, xr, [0, 150], (1591.7, 1497.3), line=True)
area(nodal_s_bx, nodal_s_by, NEME, xd, xr, [0, 150], (1709.3, 1614.9))
area(nodal_s_ox, nodal_s_oy, INPUT, xd, xr, [0, 150], (1709.3, 1614.9), line=True)
bracket(128, 140, 1497.3, 1594)
bracket(128, 140, 1616.7, 1712.3)
T("150", 120.6, 1509, 21, "right")
T("0", 116, 1583, 21, "right")
T("150", 120.6, 1627, 21, "right")
T("0", 116, 1702, 21, "right")
T("Activin", 88, 1544, 21.5, "right")
T("SB 2h", 88, 1662.7, 21.5, "right")
T("SMAD2/3", 131.9, 1735, 21, "right")
sites([8.11], [9.10], xd, xr, 1726.3, 1741.7)
gene(nodal_exons, xd, xr, 1748.3, 1771.7, 0.838, 9.22)
T("<NODAL", 864, 1798.3, 21.5, "right", italic=True)

# SMAD7
xd, xr = [0, 41.2], (939, 1704.7)
area(smad7_a_bx, smad7_a_by, NEME, xd, xr, [0, 250], (1593, 1498.3))
area(smad7_a_ox, smad7_a_oy, INPUT, xd, xr, [0, 250], (1593, 1498.3), line=True)
area(smad7_s_bx, smad7_s_by, NEME, xd, xr, [0, 250], (1711, 1616.3))
area(smad7_s_ox, smad7_s_oy, INPUT, xd, xr, [0, 250], (1711, 1616.3), line=True)
bracket(921.3, 935.4, 1498.3, 1595.3)
bracket(921.3, 935.4, 1616.7, 1713.3)
T("250", 916, 1510, 21, "right")
T("0", 911.6, 1585, 21, "right")
T("250", 916, 1628.3, 21, "right")
T("0", 911.6, 1702.7, 21, "right")
sites([32.68, 39.98], [34.08, 40.85], xd, xr, 1727, 1740.3)
gene(smad7_exons, xd, xr, 1746, 1771.7, 3.29, 30.59)
T("<SMAD7", 1530, 1798, 21.5, "right", italic=True)

# SOX2
xd, xr = [0, 2564], (140, 867)
area(sox2_a_bx, sox2_a_by, NEME, xd, xr, [0, 500], (1978.3, 1885))
area(sox2_a_ox, sox2_a_oy, INPUT, xd, xr, [0, 500], (1978.3, 1885), line=True)
area(sox2_s_bx, sox2_s_by, NEME, xd, xr, [0, 500], (2096, 2002.7))
area(sox2_s_ox, sox2_s_oy, INPUT, xd, xr, [0, 500], (2096, 2002.7), line=True)
bracket(122.3, 137, 1885, 1981.7)
bracket(122.3, 137, 2003.3, 2099.3)
T("500", 117.8, 1896, 21, "right")
T("0", 112.2, 1971.7, 21, "right")
T("500", 117.8, 2014.3, 21, "right")
T("0", 112.2, 2089.3, 21, "right")
T("Activin", 85.3, 1936, 21.5, "right")
T("SB 2h", 85.3, 2054, 21.5, "right")
T("SMAD2/3", 131.9, 2121, 21, "right")
gene(sox2_exons, xd, xr, 2140.7, 2164, 50, 2554)
T(">SOX2", 147, 2190.7, 21.5, "left", italic=True)

# OCT4
xd, xr = [0, 9.44], (960, 1710)
area(oct4_a_ox, oct4_a_oy, INPUT, xd, xr, [0, 200], (1979.3, 1885), line=True)
area(oct4_a_bx, oct4_a_by, NEME, xd, xr, [0, 200], (1979.3, 1885))
area(oct4_s_ox, oct4_s_oy, INPUT, xd, xr, [0, 200], (2094.3, 2000), line=True)
area(oct4_s_bx, oct4_s_by, NEME, xd, xr, [0, 200], (2094.3, 2000))
bracket(944, 957.5, 1885, 1981.7)
bracket(944, 957.5, 2000, 2096)
T("200", 937.5, 1896, 21, "right")
T("0", 932.7, 1971.7, 21, "right")
T("200", 937.5, 2011, 21, "right")
T("0", 932.7, 2086.7, 21, "right")
sites([8.64], [9.35], xd, xr, 2117.3, 2132.3)
gene(oct4_exons, xd, xr, 2140.7, 2164, 0.667, 6.86)
T("<OCT4", 1546.4, 2190.7, 21.5, "right", italic=True)

# ---------------- assemble ----------------
chart = alt.layer(*L).resolve_scale(x="independent", y="independent").properties(
    width=W, height=H, padding=0, autosize=alt.AutoSizeParams(type="none"),
    background="white").configure_view(stroke=None)
chart.save("out.html", embed_options={"renderer": "svg", "actions": False})
